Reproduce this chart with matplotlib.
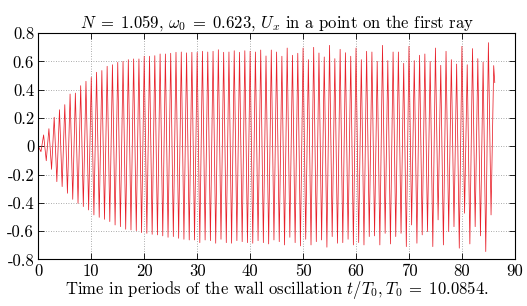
import matplotlib
matplotlib.use("Agg")
import matplotlib.pyplot as plt
from matplotlib.ticker import FixedLocator, FixedFormatter

plt.rcParams['font.family'] = ['cmr10', 'DejaVu Serif']
plt.rcParams['mathtext.fontset'] = 'cm'
plt.rcParams['axes.unicode_minus'] = False

# Peak values at t = 0, 1, 2, ..., 86 (t/T0)
peaks = [0.0, 0.08, 0.124, 0.205, 0.258, 0.294, 0.369, 0.376, 0.428, 0.459,
         0.487, 0.523, 0.535, 0.565, 0.576, 0.593, 0.60, 0.612, 0.617, 0.617,
         0.636, 0.636, 0.64, 0.652, 0.652, 0.657, 0.664, 0.666, 0.66, 0.664,
         0.664, 0.671, 0.666, 0.671, 0.682, 0.664, 0.666, 0.675, 0.664, 0.675,
         0.671, 0.666, 0.680, 0.638, 0.680, 0.666, 0.636, 0.694, 0.643, 0.657,
         0.694, 0.612, 0.699, 0.659, 0.631, 0.713, 0.619, 0.685, 0.661, 0.636,
         0.694, 0.612, 0.671, 0.666, 0.600, 0.713, 0.605, 0.666, 0.666, 0.586,
         0.706, 0.605, 0.643, 0.652, 0.600, 0.694, 0.572, 0.671, 0.612, 0.581,
         0.706, 0.576, 0.690, 0.619, 0.595, 0.732, 0.57]
# Trough values at t = 0.5, 1.5, ..., 85.5
troughs = [-0.038, -0.102, -0.163, -0.250, -0.285, -0.332, -0.375, -0.403, -0.426, -0.450,
           -0.485, -0.502, -0.516, -0.532, -0.556, -0.568, -0.586, -0.591, -0.596, -0.610,
           -0.615, -0.622, -0.626, -0.633, -0.643, -0.638, -0.650, -0.657, -0.662, -0.662,
           -0.681, -0.662, -0.667, -0.685, -0.657, -0.681, -0.685, -0.667, -0.674, -0.681,
           -0.685, -0.667, -0.681, -0.690, -0.662, -0.674, -0.697, -0.643, -0.681, -0.704,
           -0.657, -0.697, -0.674, -0.662, -0.713, -0.638, -0.685, -0.681, -0.657, -0.697,
           -0.68, -0.697, -0.638, -0.633, -0.697, -0.615, -0.690, -0.638, -0.615, -0.709,
           -0.556, -0.685, -0.626, -0.603, -0.709, -0.520, -0.697, -0.603, -0.568, -0.720,
           -0.473, -0.690, -0.568, -0.633, -0.744, -0.485]
end_t = 86.2
end_val = 0.45

xticks = [0, 10, 20, 30, 40, 50, 60, 70, 80, 90]
yticks = [-0.8, -0.6, -0.4, -0.2, 0, 0.2, 0.4, 0.6, 0.8]
xticklabels = ['0', '10', '20', '30', '40', '50', '60', '70', '80', '90']
yticklabels = ['-0.8', '-0.6', '-0.4', '-0.2', '0', '0.2', '0.4', '0.6', '0.8']

t = []
u = []
for i, p in enumerate(peaks):
    t.append(float(i))
    u.append(p)
    if i < len(troughs):
        t.append(i + 0.5)
        u.append(troughs[i])
t.append(end_t)
u.append(end_val)

fig = plt.figure(figsize=(5.27, 3.06), dpi=100)
ax = fig.add_axes([0.0727, 0.152, 0.9043, 0.740])
ax.plot(t, u, color='#e8202a', lw=0.55)
ax.set_xlim(0, 90)
ax.set_ylim(-0.8, 0.8)
ax.xaxis.set_major_locator(FixedLocator(xticks))
ax.xaxis.set_major_formatter(FixedFormatter(xticklabels))
ax.yaxis.set_major_locator(FixedLocator(yticks))
ax.yaxis.set_major_formatter(FixedFormatter(yticklabels))
ax.tick_params(direction='in', top=True, right=True, length=4, width=0.6,
               labelsize=12, pad=3)
ax.grid(True, color='#909090', linestyle=(0, (1, 2)), linewidth=0.6)
for s in ax.spines.values():
    s.set_linewidth(0.8)
ax.set_title(r'$N\;=\;1.059$, $\omega_0\;=\;0.623$, $U_x$ in a point on the first ray',
             fontsize=12, pad=4)
ax.set_xlabel(r'Time in periods of the wall oscillation $t/T_0, T_0\;=\;10.0854.$',
              fontsize=12, labelpad=0)
fig.savefig('out.png', dpi=100)
